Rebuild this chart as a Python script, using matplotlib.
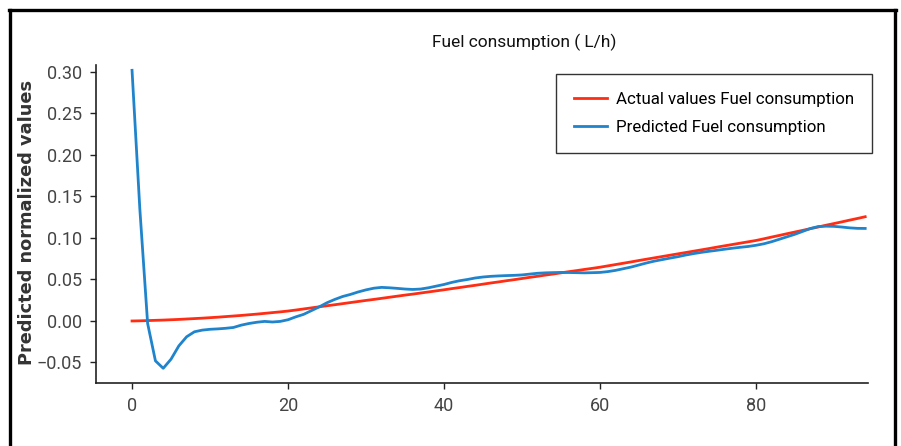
import matplotlib
matplotlib.use("Agg")
import matplotlib.pyplot as plt
from matplotlib.lines import Line2D

x_index = list(range(95))

actual_values = [
    0.0000, 0.0002, 0.0005, 0.0008, 0.0011, 0.0015, 0.0019, 0.0024, 0.0029, 0.0034,
    0.0040, 0.0046, 0.0053, 0.0060, 0.0067, 0.0075, 0.0083, 0.0092, 0.0101, 0.0110,
    0.0120, 0.0132, 0.0145, 0.0158, 0.0171, 0.0184, 0.0196, 0.0209, 0.0222, 0.0235,
    0.0248, 0.0260, 0.0273, 0.0286, 0.0299, 0.0312, 0.0324, 0.0337, 0.0350, 0.0363,
    0.0376, 0.0390, 0.0403, 0.0417, 0.0430, 0.0444, 0.0458, 0.0471, 0.0485, 0.0498,
    0.0512, 0.0526, 0.0539, 0.0553, 0.0566, 0.0580, 0.0594, 0.0607, 0.0621, 0.0634,
    0.0648, 0.0664, 0.0680, 0.0696, 0.0712, 0.0729, 0.0745, 0.0761, 0.0777, 0.0793,
    0.0809, 0.0825, 0.0841, 0.0857, 0.0873, 0.0890, 0.0906, 0.0922, 0.0938, 0.0954,
    0.0970, 0.0990, 0.1011, 0.1031, 0.1052, 0.1072, 0.1092, 0.1113, 0.1133, 0.1154,
    0.1174, 0.1194, 0.1215, 0.1235, 0.1256,
]

predicted_values = [
    0.3020, 0.1350, -0.0030, -0.0480, -0.0570, -0.0460, -0.0300, -0.0190, -0.0130, -0.0110,
    -0.0100, -0.0095, -0.0088, -0.0078, -0.0050, -0.0030, -0.0015, -0.0005, -0.0012, -0.0005,
    0.0015, 0.0050, 0.0080, 0.0125, 0.0170, 0.0220, 0.0260, 0.0295, 0.0320, 0.0350,
    0.0375, 0.0395, 0.0405, 0.0400, 0.0393, 0.0385, 0.0380, 0.0385, 0.0400, 0.0420,
    0.0440, 0.0465, 0.0485, 0.0500, 0.0518, 0.0530, 0.0538, 0.0543, 0.0547, 0.0550,
    0.0555, 0.0565, 0.0575, 0.0580, 0.0583, 0.0585, 0.0584, 0.0582, 0.0580, 0.0582,
    0.0585, 0.0595, 0.0610, 0.0630, 0.0650, 0.0675, 0.0700, 0.0722, 0.0740, 0.0758,
    0.0775, 0.0795, 0.0812, 0.0827, 0.0840, 0.0852, 0.0865, 0.0877, 0.0888, 0.0898,
    0.0912, 0.0930, 0.0955, 0.0985, 0.1015, 0.1045, 0.1080, 0.1115, 0.1138, 0.1142,
    0.1140, 0.1132, 0.1122, 0.1116, 0.1115,
]

x_ticks = [0, 20, 40, 60, 80]
y_ticks = [-0.05, 0.00, 0.05, 0.10, 0.15, 0.20, 0.25, 0.30]

title_text = "Fuel consumption ( L/h)"
ylabel_text = "Predicted normalized values"
label_actual = "Actual values Fuel consumption"
label_pred = "Predicted Fuel consumption"

FONT = ["Roboto", "DejaVu Sans"]

W, H = 901, 446
fig = plt.figure(figsize=(W / 100, H / 100), dpi=100)
fig.patch.set_facecolor("white")

ax = fig.add_axes([96 / W, 1 - 383 / H, (868 - 96) / W, (383 - 65) / H])
ax.plot(x_index, actual_values, color="#ff2d14", lw=2.0, label=label_actual)
ax.plot(x_index, predicted_values, color="#1f84cc", lw=2.0, label=label_pred)

ax.set_xlim(-4.62, 94.36)
ax.set_ylim(-0.0747, 0.3084)
ax.set_xticks(x_ticks)
ax.set_yticks(y_ticks)
ax.set_yticklabels([f"{v:.2f}".replace("-", "\u2212") for v in y_ticks])
for s in ["top", "right"]:
    ax.spines[s].set_visible(False)
for s in ["left", "bottom"]:
    ax.spines[s].set_linewidth(1.2)
    ax.spines[s].set_color("#222222")

for lab in ax.get_xticklabels() + ax.get_yticklabels():
    lab.set_fontfamily(FONT)
    lab.set_fontsize(13)
    lab.set_color("#444444")
ax.tick_params(axis="both", length=4, width=1, color="#222222", pad=6)

fig.text(524 / W, 1 - 42 / H, title_text, ha="center", va="center",
         fontsize=12.5, family=FONT, color="#111111")
fig.text(27 / W, 1 - 222 / H, ylabel_text, ha="center", va="center",
         rotation=90, fontsize=12.8, fontweight="bold", family="DejaVu Sans",
         color="#333333")

leg = ax.legend(loc="upper right",
                bbox_to_anchor=((872 - 96) / (868 - 96), (383 - 74) / (383 - 65)),
                borderaxespad=0,
                prop={"family": FONT, "size": 12.2},
                frameon=True, fancybox=False, framealpha=1, edgecolor="#333333",
                handlelength=1.95, handletextpad=0.55, borderpad=1.05,
                labelspacing=0.8)
leg.get_frame().set_linewidth(1.0)

# black border around the picture
border_kw = dict(color="black", lw=2.4, transform=None)
fig.add_artist(Line2D([10, 10], [0, H - 10], **border_kw))
fig.add_artist(Line2D([8.8, 896.2], [H - 10, H - 10], **border_kw))
fig.add_artist(Line2D([895, 895], [0, H - 10], **border_kw))

fig.savefig("out.png", dpi=100)
